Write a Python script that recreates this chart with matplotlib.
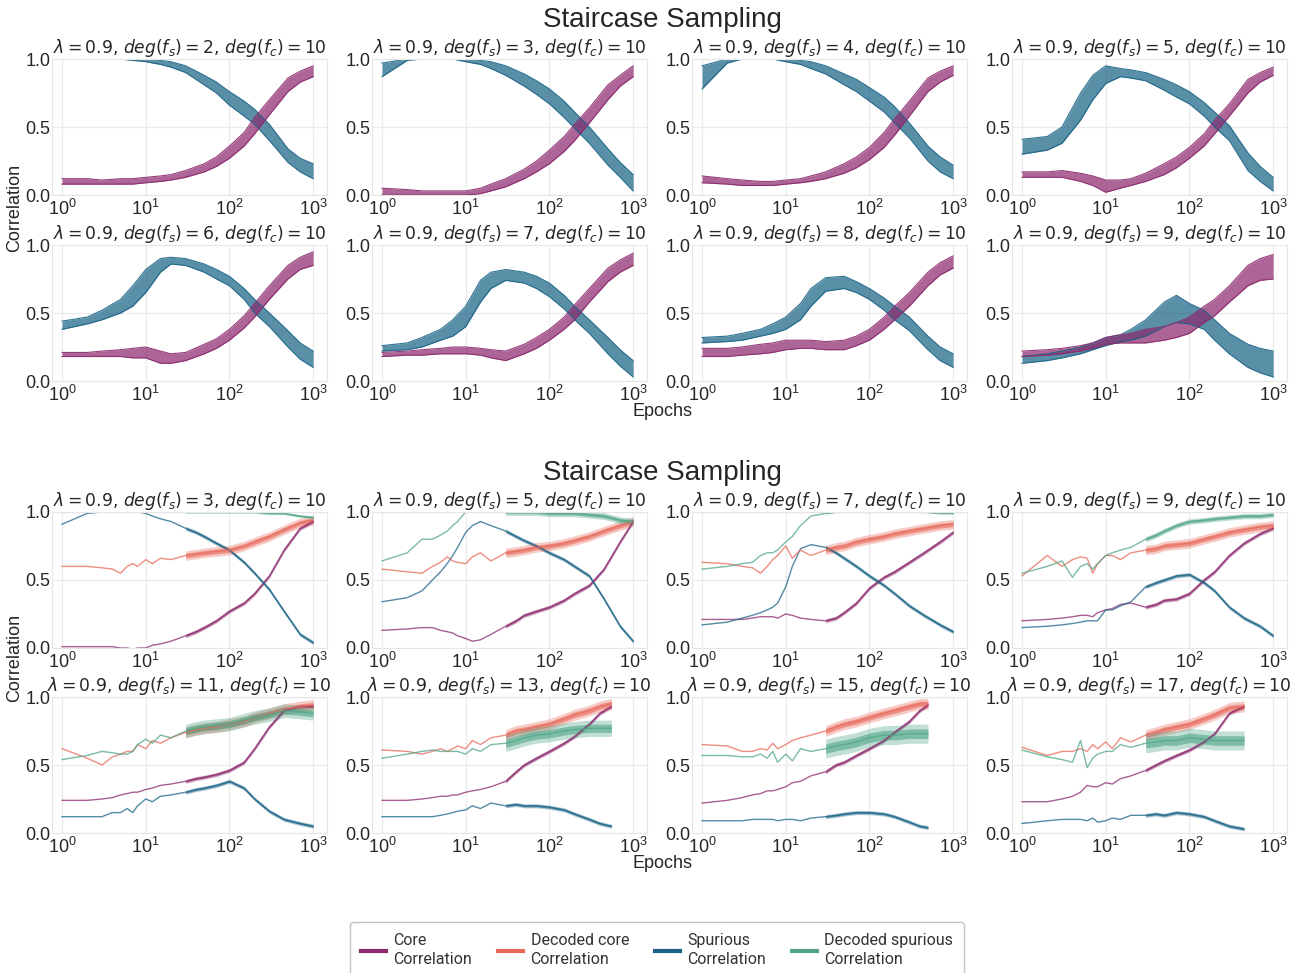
import numpy as np
import matplotlib
matplotlib.use("Agg")
import matplotlib.pyplot as plt
from matplotlib.lines import Line2D
from matplotlib.ticker import NullLocator

plt.rcParams["font.family"] = ["Liberation Sans", "DejaVu Sans"]
plt.rcParams["mathtext.fontset"] = "dejavusans"

# ---------------------------------------------------------------- colours
C_CORE = "#8c2a6e"
C_DCORE = "#e8685a"
C_SPUR = "#1b6487"
C_DSPUR = "#50a587"

LAMBDA = 0.9
DEG_FC = 10

# ---------------------------------------------------------------- top block
# spread of the runs (lower / upper envelope) at each epoch
EPOCHS_TOP = [1, 2, 3, 5, 7, 10, 15, 20, 30, 50, 70, 100, 150, 200, 300, 500, 700, 1000]
TOP_DEGS = [2, 3, 4, 5, 6, 7, 8, 9]

top_spur_lo = {
    2: [1.0, 1.0, 1.0, 1.0, 0.99, 0.98, 0.96, 0.94, 0.90, 0.81, 0.75, 0.66, 0.58, 0.52, 0.40, 0.24, 0.17, 0.12],
    3: [0.87, 0.99, 1.0, 1.0, 1.0, 0.98, 0.96, 0.93, 0.88, 0.80, 0.74, 0.67, 0.57, 0.49, 0.38, 0.22, 0.13, 0.03],
    4: [0.78, 0.97, 1.0, 1.0, 1.0, 0.98, 0.96, 0.93, 0.89, 0.81, 0.76, 0.69, 0.61, 0.53, 0.42, 0.25, 0.17, 0.12],
    5: [0.30, 0.33, 0.38, 0.55, 0.70, 0.82, 0.87, 0.86, 0.84, 0.77, 0.72, 0.67, 0.58, 0.50, 0.40, 0.18, 0.10, 0.03],
    6: [0.38, 0.42, 0.45, 0.50, 0.55, 0.65, 0.80, 0.86, 0.85, 0.80, 0.75, 0.70, 0.60, 0.50, 0.40, 0.25, 0.16, 0.10],
    7: [0.22, 0.23, 0.25, 0.30, 0.33, 0.40, 0.58, 0.68, 0.74, 0.72, 0.68, 0.62, 0.53, 0.45, 0.35, 0.20, 0.11, 0.03],
    8: [0.28, 0.29, 0.30, 0.33, 0.35, 0.38, 0.45, 0.55, 0.66, 0.68, 0.65, 0.60, 0.52, 0.45, 0.37, 0.23, 0.15, 0.10],
    9: [0.13, 0.15, 0.17, 0.20, 0.23, 0.26, 0.29, 0.30, 0.33, 0.40, 0.43, 0.42, 0.38, 0.30, 0.20, 0.10, 0.06, 0.03],
}
top_spur_hi = {
    2: [1.0, 1.0, 1.0, 1.0, 1.0, 1.0, 0.99, 0.98, 0.95, 0.88, 0.83, 0.76, 0.69, 0.63, 0.52, 0.34, 0.27, 0.23],
    3: [0.97, 1.0, 1.0, 1.0, 1.0, 1.0, 0.99, 0.98, 0.95, 0.89, 0.84, 0.78, 0.69, 0.61, 0.50, 0.34, 0.24, 0.15],
    4: [0.95, 1.0, 1.0, 1.0, 1.0, 1.0, 0.99, 0.98, 0.95, 0.89, 0.85, 0.79, 0.72, 0.65, 0.53, 0.36, 0.28, 0.22],
    5: [0.41, 0.43, 0.50, 0.75, 0.88, 0.95, 0.93, 0.92, 0.90, 0.85, 0.81, 0.76, 0.68, 0.61, 0.51, 0.31, 0.21, 0.13],
    6: [0.44, 0.47, 0.52, 0.60, 0.70, 0.82, 0.90, 0.91, 0.90, 0.86, 0.82, 0.77, 0.68, 0.60, 0.50, 0.37, 0.28, 0.22],
    7: [0.26, 0.28, 0.32, 0.38, 0.45, 0.55, 0.74, 0.80, 0.82, 0.80, 0.77, 0.72, 0.63, 0.55, 0.45, 0.32, 0.23, 0.15],
    8: [0.32, 0.33, 0.35, 0.38, 0.42, 0.47, 0.57, 0.68, 0.76, 0.77, 0.73, 0.68, 0.61, 0.55, 0.47, 0.33, 0.25, 0.20],
    9: [0.18, 0.20, 0.22, 0.25, 0.28, 0.32, 0.34, 0.38, 0.45, 0.58, 0.63, 0.57, 0.52, 0.45, 0.35, 0.27, 0.24, 0.22],
}
top_core_lo = {
    2: [0.08, 0.08, 0.08, 0.08, 0.08, 0.09, 0.10, 0.11, 0.13, 0.17, 0.21, 0.27, 0.36, 0.45, 0.59, 0.76, 0.83, 0.87],
    3: [0.0, 0.0, 0.0, 0.0, 0.0, 0.0, 0.01, 0.03, 0.06, 0.12, 0.17, 0.23, 0.32, 0.40, 0.53, 0.70, 0.80, 0.87],
    4: [0.09, 0.08, 0.07, 0.07, 0.07, 0.08, 0.09, 0.10, 0.12, 0.16, 0.20, 0.26, 0.35, 0.44, 0.58, 0.76, 0.83, 0.88],
    5: [0.13, 0.13, 0.13, 0.10, 0.07, 0.02, 0.05, 0.07, 0.10, 0.15, 0.20, 0.27, 0.36, 0.45, 0.58, 0.75, 0.83, 0.88],
    6: [0.18, 0.18, 0.18, 0.18, 0.17, 0.17, 0.13, 0.13, 0.15, 0.20, 0.24, 0.30, 0.39, 0.47, 0.60, 0.75, 0.82, 0.85],
    7: [0.18, 0.19, 0.19, 0.20, 0.20, 0.20, 0.19, 0.17, 0.15, 0.20, 0.24, 0.30, 0.38, 0.45, 0.58, 0.73, 0.80, 0.85],
    8: [0.18, 0.18, 0.19, 0.20, 0.21, 0.23, 0.24, 0.24, 0.23, 0.23, 0.26, 0.30, 0.38, 0.45, 0.55, 0.70, 0.78, 0.83],
    9: [0.18, 0.19, 0.20, 0.22, 0.24, 0.27, 0.28, 0.28, 0.28, 0.30, 0.32, 0.35, 0.43, 0.48, 0.58, 0.70, 0.74, 0.75],
}
top_core_hi = {
    2: [0.12, 0.12, 0.11, 0.12, 0.12, 0.13, 0.14, 0.15, 0.18, 0.23, 0.28, 0.36, 0.46, 0.57, 0.70, 0.86, 0.91, 0.95],
    3: [0.05, 0.04, 0.03, 0.03, 0.03, 0.03, 0.05, 0.08, 0.12, 0.19, 0.25, 0.33, 0.43, 0.52, 0.64, 0.81, 0.88, 0.95],
    4: [0.14, 0.12, 0.11, 0.10, 0.10, 0.11, 0.12, 0.14, 0.17, 0.23, 0.28, 0.35, 0.46, 0.56, 0.69, 0.86, 0.91, 0.95],
    5: [0.17, 0.17, 0.18, 0.16, 0.14, 0.11, 0.11, 0.12, 0.16, 0.23, 0.28, 0.35, 0.45, 0.55, 0.67, 0.85, 0.90, 0.94],
    6: [0.21, 0.21, 0.22, 0.23, 0.24, 0.25, 0.22, 0.20, 0.21, 0.27, 0.31, 0.38, 0.48, 0.57, 0.70, 0.85, 0.91, 0.95],
    7: [0.21, 0.22, 0.23, 0.24, 0.25, 0.25, 0.24, 0.23, 0.22, 0.27, 0.32, 0.38, 0.47, 0.56, 0.68, 0.83, 0.89, 0.94],
    8: [0.24, 0.24, 0.25, 0.27, 0.28, 0.30, 0.30, 0.30, 0.29, 0.30, 0.33, 0.38, 0.47, 0.55, 0.65, 0.80, 0.87, 0.92],
    9: [0.22, 0.23, 0.24, 0.26, 0.28, 0.32, 0.34, 0.35, 0.38, 0.40, 0.43, 0.47, 0.55, 0.60, 0.70, 0.85, 0.90, 0.93],
}

# ---------------------------------------------------------------- bottom block
# one run per panel, with the epoch-to-epoch jitter amplitude of each curve
EPOCHS_BASE = [1, 2, 3, 4, 5, 6, 7, 8, 10, 12, 15, 20, 30, 40, 50, 70, 100, 150, 200, 300]
BOT_DEGS = [3, 5, 7, 9, 11, 13, 15, 17]
bot_epoch_tail = {3: [450, 700, 1000], 5: [450, 700, 1000], 7: [450, 700, 1000],
                  9: [450, 700, 1000], 11: [450, 700, 1000], 13: [400, 550],
                  15: [400, 500], 17: [450]}

bot_core = {
    3: [0.01, 0.01, 0.01, 0.01, 0.0, 0.0, -0.01, 0.0, 0.0, 0.02, 0.03, 0.05, 0.09, 0.12, 0.15, 0.20, 0.27, 0.33, 0.40, 0.53, 0.72, 0.88, 0.93],
    5: [0.13, 0.14, 0.15, 0.15, 0.13, 0.12, 0.11, 0.09, 0.07, 0.05, 0.06, 0.10, 0.16, 0.20, 0.24, 0.27, 0.30, 0.35, 0.40, 0.46, 0.58, 0.78, 0.93],
    7: [0.21, 0.21, 0.21, 0.22, 0.23, 0.23, 0.23, 0.22, 0.25, 0.24, 0.22, 0.21, 0.20, 0.22, 0.26, 0.33, 0.44, 0.52, 0.56, 0.63, 0.70, 0.78, 0.85],
    9: [0.20, 0.21, 0.22, 0.23, 0.24, 0.24, 0.23, 0.26, 0.28, 0.29, 0.32, 0.33, 0.30, 0.32, 0.35, 0.36, 0.40, 0.50, 0.56, 0.68, 0.77, 0.84, 0.88],
    11: [0.24, 0.24, 0.25, 0.26, 0.28, 0.29, 0.30, 0.30, 0.32, 0.33, 0.35, 0.36, 0.38, 0.40, 0.41, 0.43, 0.46, 0.52, 0.62, 0.78, 0.90, 0.93, 0.93],
    13: [0.24, 0.24, 0.25, 0.26, 0.27, 0.27, 0.28, 0.28, 0.30, 0.31, 0.32, 0.34, 0.38, 0.45, 0.50, 0.55, 0.60, 0.66, 0.71, 0.80, 0.88, 0.93],
    15: [0.22, 0.24, 0.26, 0.28, 0.29, 0.31, 0.31, 0.32, 0.34, 0.37, 0.38, 0.42, 0.45, 0.50, 0.52, 0.57, 0.62, 0.68, 0.74, 0.82, 0.90, 0.94],
    17: [0.23, 0.23, 0.25, 0.27, 0.30, 0.35, 0.34, 0.34, 0.37, 0.36, 0.40, 0.42, 0.46, 0.50, 0.53, 0.57, 0.61, 0.67, 0.73, 0.88, 0.93],
}
bot_dcore = {
    3: [0.60, 0.60, 0.59, 0.58, 0.55, 0.60, 0.62, 0.60, 0.65, 0.62, 0.66, 0.65, 0.68, 0.69, 0.70, 0.71, 0.72, 0.75, 0.78, 0.82, 0.87, 0.92, 0.94],
    5: [0.58, 0.56, 0.55, 0.60, 0.63, 0.67, 0.64, 0.63, 0.62, 0.67, 0.70, 0.64, 0.70, 0.71, 0.72, 0.74, 0.75, 0.77, 0.79, 0.82, 0.86, 0.90, 0.93],
    7: [0.63, 0.62, 0.60, 0.59, 0.55, 0.60, 0.65, 0.68, 0.75, 0.66, 0.72, 0.68, 0.72, 0.74, 0.75, 0.78, 0.80, 0.82, 0.84, 0.86, 0.88, 0.90, 0.91],
    9: [0.53, 0.68, 0.60, 0.65, 0.67, 0.66, 0.55, 0.62, 0.68, 0.68, 0.65, 0.70, 0.72, 0.73, 0.75, 0.76, 0.77, 0.80, 0.82, 0.85, 0.87, 0.89, 0.90],
    11: [0.62, 0.55, 0.50, 0.56, 0.58, 0.60, 0.60, 0.65, 0.62, 0.68, 0.66, 0.70, 0.74, 0.76, 0.77, 0.78, 0.80, 0.82, 0.85, 0.88, 0.91, 0.93, 0.94],
    13: [0.61, 0.60, 0.58, 0.60, 0.62, 0.60, 0.62, 0.64, 0.62, 0.68, 0.65, 0.70, 0.72, 0.75, 0.76, 0.78, 0.80, 0.84, 0.87, 0.90, 0.93, 0.95],
    15: [0.65, 0.64, 0.60, 0.60, 0.62, 0.61, 0.66, 0.62, 0.65, 0.68, 0.70, 0.72, 0.75, 0.78, 0.80, 0.82, 0.85, 0.88, 0.90, 0.93, 0.95, 0.95],
    17: [0.63, 0.57, 0.60, 0.60, 0.62, 0.60, 0.65, 0.62, 0.67, 0.62, 0.70, 0.67, 0.72, 0.74, 0.76, 0.78, 0.80, 0.84, 0.87, 0.92, 0.93],
}
bot_spur = {
    3: [0.91, 0.99, 1.0, 1.0, 1.0, 1.0, 1.0, 1.0, 0.99, 0.97, 0.95, 0.93, 0.88, 0.85, 0.82, 0.77, 0.72, 0.63, 0.55, 0.43, 0.27, 0.10, 0.04],
    5: [0.34, 0.37, 0.42, 0.50, 0.56, 0.62, 0.68, 0.74, 0.85, 0.90, 0.93, 0.90, 0.86, 0.82, 0.79, 0.75, 0.70, 0.65, 0.60, 0.53, 0.36, 0.16, 0.05],
    7: [0.17, 0.19, 0.22, 0.24, 0.26, 0.28, 0.30, 0.33, 0.45, 0.60, 0.73, 0.76, 0.74, 0.70, 0.66, 0.60, 0.53, 0.46, 0.40, 0.31, 0.24, 0.17, 0.12],
    9: [0.15, 0.16, 0.17, 0.18, 0.19, 0.20, 0.20, 0.20, 0.28, 0.28, 0.31, 0.34, 0.45, 0.48, 0.50, 0.53, 0.54, 0.48, 0.42, 0.30, 0.22, 0.16, 0.09],
    11: [0.12, 0.12, 0.12, 0.15, 0.15, 0.18, 0.15, 0.20, 0.25, 0.23, 0.27, 0.28, 0.30, 0.32, 0.33, 0.35, 0.38, 0.33, 0.25, 0.16, 0.10, 0.07, 0.05],
    13: [0.12, 0.12, 0.12, 0.12, 0.13, 0.14, 0.15, 0.16, 0.17, 0.20, 0.18, 0.22, 0.20, 0.21, 0.20, 0.20, 0.19, 0.17, 0.14, 0.10, 0.07, 0.05],
    15: [0.09, 0.09, 0.09, 0.10, 0.10, 0.10, 0.10, 0.09, 0.10, 0.10, 0.09, 0.11, 0.12, 0.13, 0.14, 0.15, 0.15, 0.14, 0.12, 0.08, 0.05, 0.04],
    17: [0.07, 0.09, 0.10, 0.10, 0.10, 0.09, 0.11, 0.08, 0.09, 0.11, 0.10, 0.13, 0.13, 0.14, 0.13, 0.15, 0.14, 0.12, 0.09, 0.05, 0.03],
}
bot_dspur = {
    3: [1.0, 1.0, 1.0, 1.0, 1.0, 1.0, 1.0, 1.0, 1.0, 1.0, 1.0, 1.0, 1.0, 1.0, 1.0, 1.0, 1.0, 1.0, 1.0, 0.99, 0.99, 0.97, 0.96],
    5: [0.64, 0.70, 0.80, 0.80, 0.83, 0.86, 0.90, 0.93, 1.0, 1.0, 1.0, 1.0, 1.0, 1.0, 1.0, 1.0, 0.99, 0.99, 0.99, 0.98, 0.97, 0.94, 0.93],
    7: [0.58, 0.60, 0.62, 0.63, 0.68, 0.70, 0.70, 0.72, 0.78, 0.82, 0.90, 0.97, 0.99, 1.0, 1.0, 1.0, 1.0, 1.0, 1.0, 1.0, 1.0, 0.99, 0.99],
    9: [0.55, 0.60, 0.64, 0.52, 0.60, 0.62, 0.58, 0.62, 0.68, 0.70, 0.72, 0.74, 0.80, 0.83, 0.86, 0.90, 0.93, 0.94, 0.95, 0.96, 0.97, 0.97, 0.98],
    11: [0.54, 0.57, 0.60, 0.59, 0.58, 0.58, 0.60, 0.65, 0.69, 0.66, 0.72, 0.70, 0.75, 0.77, 0.78, 0.79, 0.80, 0.83, 0.85, 0.87, 0.90, 0.89, 0.88],
    13: [0.55, 0.58, 0.60, 0.61, 0.60, 0.60, 0.60, 0.60, 0.58, 0.62, 0.60, 0.65, 0.66, 0.68, 0.70, 0.72, 0.73, 0.75, 0.76, 0.77, 0.77, 0.77],
    15: [0.57, 0.57, 0.56, 0.56, 0.58, 0.55, 0.60, 0.52, 0.58, 0.53, 0.62, 0.60, 0.62, 0.64, 0.65, 0.67, 0.70, 0.72, 0.72, 0.73, 0.73, 0.73],
    17: [0.61, 0.56, 0.54, 0.52, 0.68, 0.48, 0.55, 0.58, 0.60, 0.60, 0.65, 0.63, 0.66, 0.67, 0.68, 0.68, 0.70, 0.69, 0.68, 0.68, 0.68],
}
# jitter half-width of each curve, per panel (same order as BOT_DEGS)
jit_core = [0.015, 0.015, 0.015, 0.015, 0.015, 0.015, 0.015, 0.015]
jit_dcore = [0.035, 0.035, 0.035, 0.035, 0.04, 0.04, 0.04, 0.04]
jit_spur = [0.015, 0.015, 0.015, 0.015, 0.015, 0.015, 0.015, 0.015]
jit_dspur = [0.01, 0.025, 0.005, 0.02, 0.05, 0.06, 0.07, 0.07]

# ---------------------------------------------------------------- layout
W, H = 1310, 973
fig = plt.figure(figsize=(W / 100, H / 100), dpi=100)

COL_LEFT = [52, 372, 692, 1012]
ROW_TOP = [59, 245, 512, 697]
AX_W, AX_H = 275, 136
TXT = "#262626"


def make_axes(row, col):
    return fig.add_axes([COL_LEFT[col] / W, 1 - (ROW_TOP[row] + AX_H) / H, AX_W / W, AX_H / H])


def style_axes(ax, deg_fs):
    ax.set_xscale("log")
    ax.set_xlim(10 ** -0.12, 10 ** 3.166)
    ax.set_ylim(0, 1)
    ax.set_xticks([1, 10, 100, 1000])
    ax.xaxis.set_minor_locator(NullLocator())
    ax.set_yticks([0.0, 0.5, 1.0])
    ax.set_yticklabels(["0.0", "0.5", "1.0"])
    ax.grid(True, color="#ebebeb", lw=0.9)
    ax.set_axisbelow(True)
    for sp in ax.spines.values():
        sp.set_color("#e6e6e6")
        sp.set_linewidth(0.8)
    ax.tick_params(length=0, labelsize=13, colors=TXT)
    ax.tick_params(axis="y", pad=1)
    ax.tick_params(axis="x", pad=3)
    title = r"$\lambda = %.1f$, $deg(f_s) = %d$, $deg(f_c) = %d$" % (LAMBDA, deg_fs, DEG_FC)
    ax.set_title(title, fontsize=12.3, color=TXT, pad=3, family="DejaVu Sans")


def draw_band(ax, x, lo, hi, color):
    ax.fill_between(x, lo, hi, color=color, alpha=0.72, lw=0)
    ax.plot(x, lo, color=color, lw=0.8, alpha=0.9)
    ax.plot(x, hi, color=color, lw=0.8, alpha=0.9)


def draw_run(ax, x, y, jit, color):
    x = np.asarray(x, dtype=float)
    y = np.asarray(y, dtype=float)
    ax.plot(x, y, color=color, lw=1.0, alpha=0.75)
    dense = x >= 30
    xd, yd = x[dense], y[dense]
    # soft outer jitter envelope, denser core
    ax.fill_between(xd, yd - jit, yd + jit, color=color, alpha=0.35, lw=0)
    ax.fill_between(xd, yd - jit / 2, yd + jit / 2, color=color, alpha=0.6, lw=0)


# top block: many runs per panel
for i, deg in enumerate(TOP_DEGS):
    ax = make_axes(i // 4, i % 4)
    style_axes(ax, deg)
    draw_band(ax, EPOCHS_TOP, top_spur_lo[deg], top_spur_hi[deg], C_SPUR)
    draw_band(ax, EPOCHS_TOP, top_core_lo[deg], top_core_hi[deg], C_CORE)

# bottom block: single run with decoded correlations
for i, deg in enumerate(BOT_DEGS):
    ax = make_axes(2 + i // 4, i % 4)
    style_axes(ax, deg)
    ep = EPOCHS_BASE + bot_epoch_tail[deg]
    draw_run(ax, ep, bot_core[deg], jit_core[i], C_CORE)
    draw_run(ax, ep, bot_spur[deg], jit_spur[i], C_SPUR)
    draw_run(ax, ep, bot_dcore[deg], jit_dcore[i], C_DCORE)
    draw_run(ax, ep, bot_dspur[deg], jit_dspur[i], C_DSPUR)

# figure-level text
for y in (20, 473):
    fig.text(662 / W, 1 - y / H, "Staircase Sampling", fontsize=20, color=TXT, ha="center", va="center")
for y in (208, 658):
    fig.text(15 / W, 1 - y / H, "Correlation", fontsize=13, color=TXT, rotation=90, ha="center", va="center")
for y in (412, 864):
    fig.text(662 / W, 1 - y / H, "Epochs", fontsize=13, color=TXT, ha="center", va="center")

# legend
handles = [Line2D([], [], color=c, lw=3) for c in (C_CORE, C_DCORE, C_SPUR, C_DSPUR)]
labels = ["Core\nCorrelation", "Decoded core\nCorrelation", "Spurious\nCorrelation", "Decoded spurious\nCorrelation"]
leg = fig.legend(handles, labels, loc="upper center", bbox_to_anchor=(657 / W, 1 - 922 / H),
                 ncol=4, frameon=True, fancybox=True, borderaxespad=0, borderpad=0.7,
                 handlelength=1.6, handletextpad=0.45, columnspacing=1.6,
                 prop={"family": ["Roboto", "DejaVu Sans"], "size": 11.5})
leg.get_frame().set_edgecolor("#b5b5b5")
leg.get_frame().set_linewidth(1.0)
for t in leg.get_texts():
    t.set_color("#333333")
    t.set_linespacing(1.35)

fig.savefig("out.png", dpi=100)
